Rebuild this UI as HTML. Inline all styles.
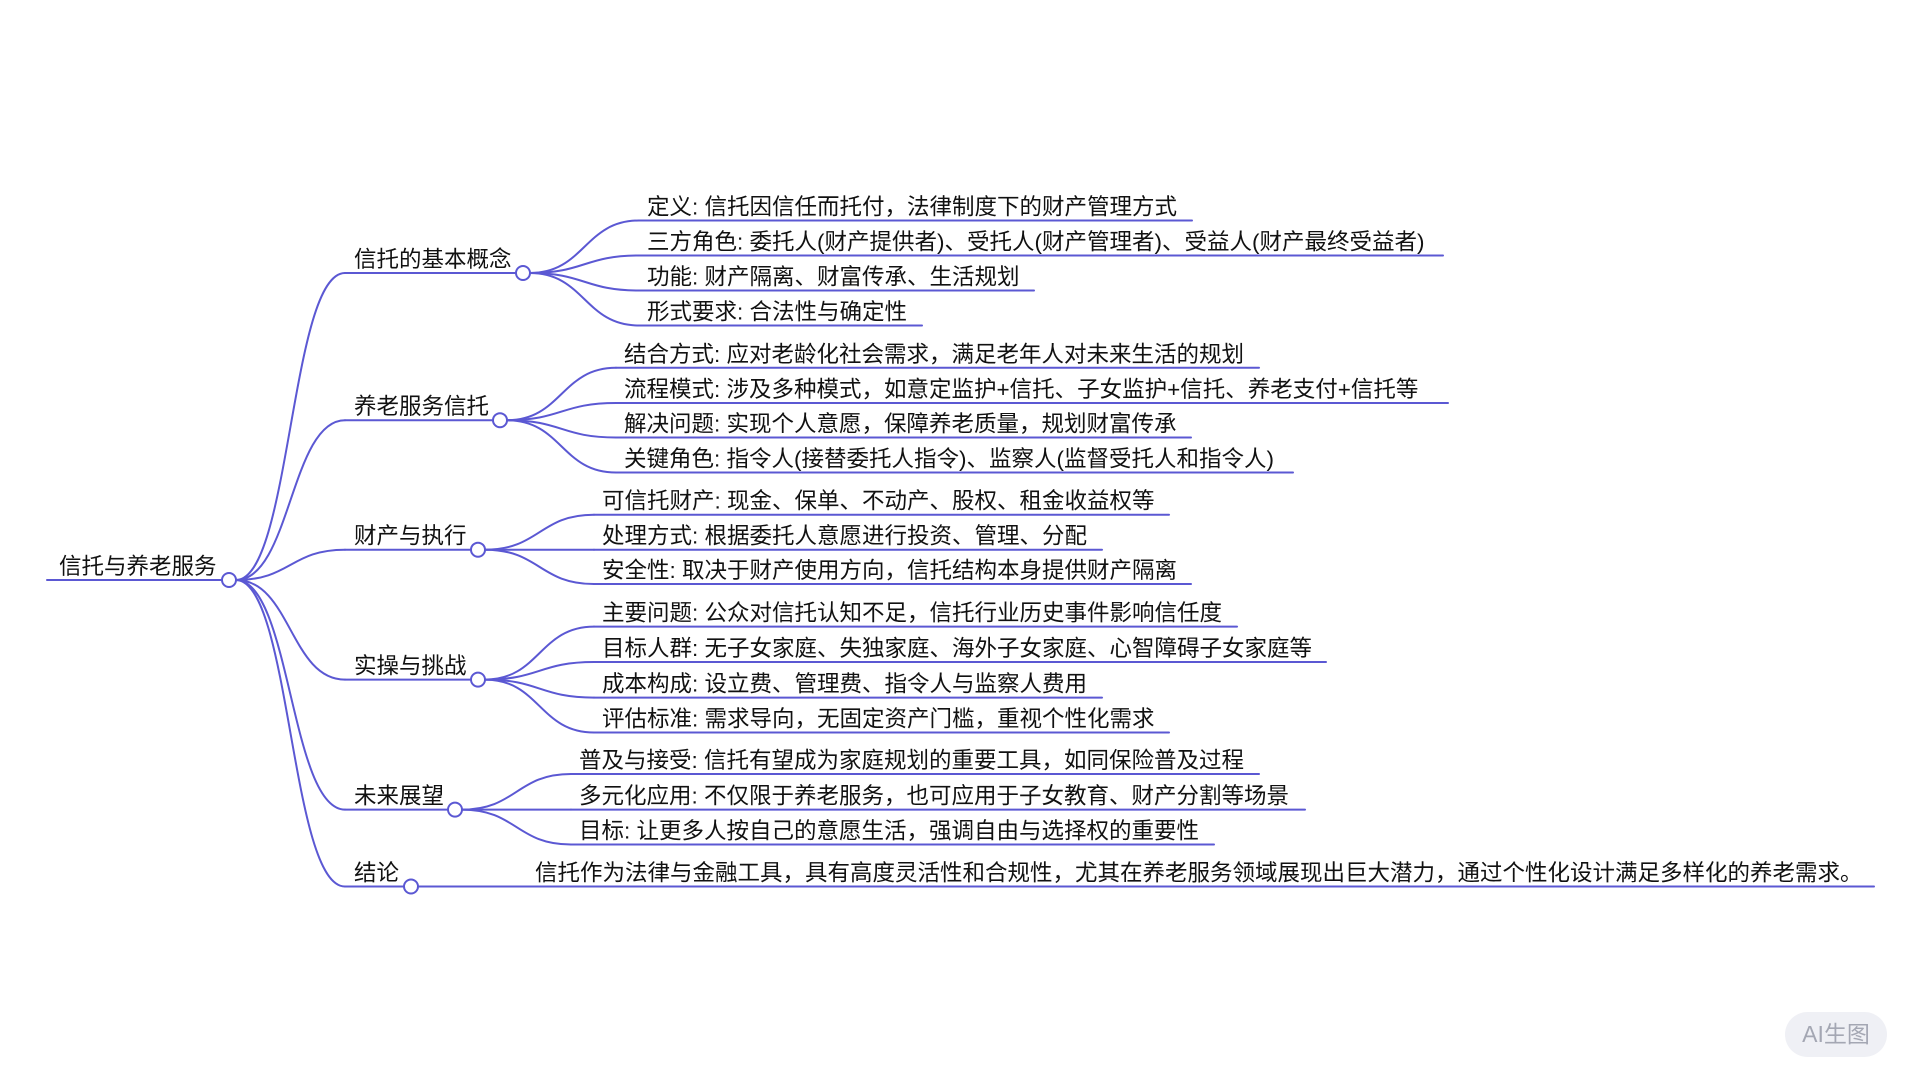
<!DOCTYPE html>
<html>
<head>
<meta charset="utf-8">
<style>
  html, body { margin: 0; padding: 0; background: #ffffff; }
  body { width: 1920px; height: 1080px; overflow: hidden; }
  svg { display: block; }
  text { font-family: "Liberation Sans", "Noto Sans CJK SC", "WenQuanYi Zen Hei", sans-serif; font-size: 22.5px; fill: #111111; }
</style>
</head>
<body>
<svg width="1920" height="1080" viewBox="0 0 1920 1080" xmlns="http://www.w3.org/2000/svg">
  <rect x="0" y="0" width="1920" height="1080" fill="#ffffff"/>
  <g fill="none" stroke="#5b58d3" stroke-width="2" stroke-linecap="round">
    <!-- root line -->
    <path d="M47,580 H222"/>
    <!-- root links -->
    <path d="M236,580 C290.5,580 290.5,273 345,273"/>
    <path d="M236,580 C290.5,580 290.5,420.2 345,420.2"/>
    <path d="M236,580 C290.5,580 290.5,549.7 345,549.7"/>
    <path d="M236,580 C290.5,580 290.5,679.6 345,679.6"/>
    <path d="M236,580 C290.5,580 290.5,809.6 345,809.6"/>
    <path d="M236,580 C290.5,580 290.5,886.5 345,886.5"/>
    <!-- level 1 lines -->
    <path d="M345,273 H516"/>
    <path d="M345,420.2 H493"/>
    <path d="M345,549.7 H471"/>
    <path d="M345,679.6 H471"/>
    <path d="M345,809.6 H448"/>
    <path d="M345,886.5 H404"/>

    <!-- G1 links: circle 523, from 530 to 639 -->
    <path d="M530,273 C584.5,273 584.5,220.5 639,220.5"/>
    <path d="M530,273 C584.5,273 584.5,255.5 639,255.5"/>
    <path d="M530,273 C584.5,273 584.5,290.5 639,290.5"/>
    <path d="M530,273 C584.5,273 584.5,325.5 639,325.5"/>
    <path d="M639,220.5 H1192"/>
    <path d="M639,255.5 H1443"/>
    <path d="M639,290.5 H1034"/>
    <path d="M639,325.5 H922"/>

    <!-- G2 links: circle 500, from 507 to 616 -->
    <path d="M507,420.2 C561.5,420.2 561.5,367.8 616,367.8"/>
    <path d="M507,420.2 C561.5,420.2 561.5,403 616,403"/>
    <path d="M507,420.2 C561.5,420.2 561.5,437.5 616,437.5"/>
    <path d="M507,420.2 C561.5,420.2 561.5,472.5 616,472.5"/>
    <path d="M616,367.8 H1259"/>
    <path d="M616,403 H1448"/>
    <path d="M616,437.5 H1191"/>
    <path d="M616,472.5 H1293"/>

    <!-- G3 links: circle 478, from 485 to 594 -->
    <path d="M485,549.7 C539.5,549.7 539.5,514.7 594,514.7"/>
    <path d="M485,549.7 H594"/>
    <path d="M485,549.7 C539.5,549.7 539.5,584 594,584"/>
    <path d="M594,514.7 H1169"/>
    <path d="M594,549.7 H1102"/>
    <path d="M594,584 H1191"/>

    <!-- G4 links: circle 478 -->
    <path d="M485,679.6 C539.5,679.6 539.5,626.6 594,626.6"/>
    <path d="M485,679.6 C539.5,679.6 539.5,662 594,662"/>
    <path d="M485,679.6 C539.5,679.6 539.5,697.6 594,697.6"/>
    <path d="M485,679.6 C539.5,679.6 539.5,732.5 594,732.5"/>
    <path d="M594,626.6 H1237"/>
    <path d="M594,662 H1326"/>
    <path d="M594,697.6 H1102"/>
    <path d="M594,732.5 H1169"/>

    <!-- G5 links: circle 455, from 462 to 571 -->
    <path d="M462,809.6 C516.5,809.6 516.5,774 571,774"/>
    <path d="M462,809.6 H571"/>
    <path d="M462,809.6 C516.5,809.6 516.5,844.5 571,844.5"/>
    <path d="M571,774 H1259"/>
    <path d="M571,809.6 H1305"/>
    <path d="M571,844.5 H1214"/>

    <!-- G6: circle 411, from 418 to 527 -->
    <path d="M418,886.5 H1874"/>
  </g>

  <!-- circles -->
  <g fill="#ffffff" stroke="#5b58d3" stroke-width="2">
    <circle cx="229" cy="580" r="7"/>
    <circle cx="523" cy="273" r="7"/>
    <circle cx="500" cy="420.2" r="7"/>
    <circle cx="478" cy="549.7" r="7"/>
    <circle cx="478" cy="679.6" r="7"/>
    <circle cx="455" cy="809.6" r="7"/>
    <circle cx="411" cy="886.5" r="7"/>
  </g>

  <!-- root text -->
  <text x="59" y="574">信托与养老服务</text>

  <!-- level 1 texts -->
  <text x="354" y="267">信托的基本概念</text>
  <text x="354" y="414.2">养老服务信托</text>
  <text x="354" y="543.7">财产与执行</text>
  <text x="354" y="673.6">实操与挑战</text>
  <text x="354" y="803.6">未来展望</text>
  <text x="354" y="880.5">结论</text>

  <!-- G1 -->
  <text x="647" y="214.5">定义: 信托因信任而托付，法律制度下的财产管理方式</text>
  <text x="647" y="249.5">三方角色: 委托人(财产提供者)、受托人(财产管理者)、受益人(财产最终受益者)</text>
  <text x="647" y="284.5">功能: 财产隔离、财富传承、生活规划</text>
  <text x="647" y="319.5">形式要求: 合法性与确定性</text>

  <!-- G2 -->
  <text x="624" y="361.8">结合方式: 应对老龄化社会需求，满足老年人对未来生活的规划</text>
  <text x="624" y="397">流程模式: 涉及多种模式，如意定监护+信托、子女监护+信托、养老支付+信托等</text>
  <text x="624" y="431.5">解决问题: 实现个人意愿，保障养老质量，规划财富传承</text>
  <text x="624" y="466.5">关键角色: 指令人(接替委托人指令)、监察人(监督受托人和指令人)</text>

  <!-- G3 -->
  <text x="602" y="508.7">可信托财产: 现金、保单、不动产、股权、租金收益权等</text>
  <text x="602" y="543.7">处理方式: 根据委托人意愿进行投资、管理、分配</text>
  <text x="602" y="578">安全性: 取决于财产使用方向，信托结构本身提供财产隔离</text>

  <!-- G4 -->
  <text x="602" y="620.6">主要问题: 公众对信托认知不足，信托行业历史事件影响信任度</text>
  <text x="602" y="656">目标人群: 无子女家庭、失独家庭、海外子女家庭、心智障碍子女家庭等</text>
  <text x="602" y="691.6">成本构成: 设立费、管理费、指令人与监察人费用</text>
  <text x="602" y="726.5">评估标准: 需求导向，无固定资产门槛，重视个性化需求</text>

  <!-- G5 -->
  <text x="579" y="768">普及与接受: 信托有望成为家庭规划的重要工具，如同保险普及过程</text>
  <text x="579" y="803.6">多元化应用: 不仅限于养老服务，也可应用于子女教育、财产分割等场景</text>
  <text x="579" y="838.5">目标: 让更多人按自己的意愿生活，强调自由与选择权的重要性</text>

  <!-- G6 -->
  <text x="535" y="880.5">信托作为法律与金融工具，具有高度灵活性和合规性，尤其在养老服务领域展现出巨大潜力，通过个性化设计满足多样化的养老需求。</text>

  <!-- watermark -->
  <rect x="1785" y="1012" width="102" height="45" rx="22.5" ry="22.5" fill="#eff0f5"/>
  <text x="1836" y="1042" text-anchor="middle" style="font-size:23px; fill:#a4a7b3;">AI生图</text>
</svg>
</body>
</html>
